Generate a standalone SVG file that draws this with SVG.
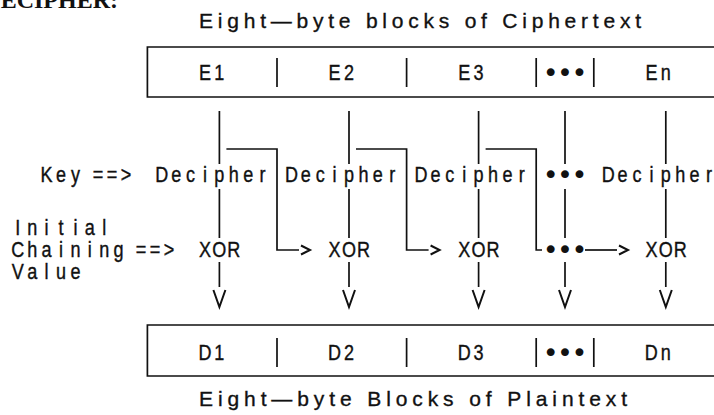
<svg xmlns="http://www.w3.org/2000/svg" width="714" height="415" viewBox="0 0 714 415">
  <style>
    /* fixed-pitch lettering: one glyph per 14.4px cell, glyphs narrowed to 82% */
    .t { font-family: "Liberation Sans", Arial, sans-serif; font-size: 22px; fill: #111; stroke: #111; stroke-width: 0.4px; text-anchor: middle; }
    .title { font-family: "Liberation Sans", Arial, sans-serif; font-size: 21px; fill: #111; stroke: #111; stroke-width: 0.35px; }
    .dot { font-family: "DejaVu Sans", sans-serif; font-size: 27px; fill: #111; text-anchor: middle; }
    .ln { fill: none; stroke: #111; stroke-width: 1.7; }
    .head { fill: none; stroke: #111; stroke-width: 2; stroke-linejoin: miter; }
  </style>
  <defs>
    <!-- open chevron heads: ">" on horizontals, "V" on verticals; drawn just past the line end -->
    <marker id="chev" markerUnits="userSpaceOnUse" markerWidth="14" markerHeight="12" refX="0" refY="0" viewBox="-1 -6 14 12" orient="auto" overflow="visible">
      <path class="head" d="M2,-4.5 L11,0 L2,4.5"/>
    </marker>
    <marker id="vee" markerUnits="userSpaceOnUse" markerWidth="24" markerHeight="16" refX="0" refY="0" viewBox="0 -8 24 16" orient="auto" overflow="visible">
      <path class="head" d="M3,-6 L20,0 L3,6"/>
    </marker>
  </defs>

  <!-- section heading, clipped at the page top -->
  <text x="118" y="8" text-anchor="end" font-family="Liberation Serif, serif" font-weight="bold" font-size="24" fill="#111">DECIPHER:</text>

  <g id="title-ciphertext">
    <text class="title" x="199" y="28" textLength="442" lengthAdjust="spacing">Eight—byte blocks of Ciphertext</text>
  </g>

  <g id="ciphertext-blocks">
    <path class="ln" d="M714,47 H147.4 V97 H714"/>
    <path class="ln" d="M277,58 V87 M406.6,58 V87 M536.2,58 V87 M593.8,58 V87"/>
    <text class="t" transform="scale(0.82,1)" x="250 267.56" y="80">E1</text>
    <text class="t" transform="scale(0.82,1)" x="408.05 425.61" y="80">E2</text>
    <text class="t" transform="scale(0.82,1)" x="566.1 583.66" y="80">E3</text>
    <text class="dot" x="550.6 565 579.4" y="82">•••</text>
    <text class="t" transform="scale(0.82,1)" x="794.39 811.95" y="80">En</text>
  </g>

  <g id="key-label">
    <text class="t" transform="scale(0.82,1)" x="56.83 74.39 91.95" y="182">Key</text>
    <text class="t" transform="scale(0.82,1)" x="119.51 136.59 153.66" y="182">==&gt;</text>
  </g>

  <g id="decipher-1"><text class="t" transform="scale(0.82,1)" x="197.32 214.88 232.44 250 267.56 285.12 302.68 320.24" y="182">Decipher</text></g>
  <g id="decipher-2"><text class="t" transform="scale(0.82,1)" x="355.37 372.93 390.49 408.05 425.61 443.17 460.73 478.29" y="182">Decipher</text></g>
  <g id="decipher-3"><text class="t" transform="scale(0.82,1)" x="513.41 530.98 548.54 566.1 583.66 601.22 618.78 636.34" y="182">Decipher</text></g>
  <g id="decipher-gap"><text class="dot" x="550.6 565 579.4" y="184">•••</text></g>
  <g id="decipher-n"><text class="t" transform="scale(0.82,1)" x="741.71 759.27 776.83 794.39 811.95 829.51 847.07 864.63" y="182">Decipher</text></g>

  <g id="iv-label">
    <text class="t" transform="scale(0.82,1)" x="21.71 39.27 56.83 74.39 91.95 109.51 127.07" y="235">Initial</text>
    <text class="t" transform="scale(0.82,1)" x="21.71 39.27 56.83 74.39 91.95 109.51 127.07 144.63" y="257">Chaining</text>
    <text class="t" transform="scale(0.82,1)" x="171.95 189.02 206.1" y="257">==&gt;</text>
    <text class="t" transform="scale(0.82,1)" x="21.71 39.27 56.83 74.39 91.95" y="279">Value</text>
  </g>

  <g id="xor-1"><text class="t" transform="scale(0.82,1)" x="250 267.56 285.12" y="257">XOR</text></g>
  <g id="xor-2"><text class="t" transform="scale(0.82,1)" x="408.05 425.61 443.17" y="257">XOR</text></g>
  <g id="xor-3"><text class="t" transform="scale(0.82,1)" x="566.1 583.66 601.22" y="257">XOR</text></g>
  <g id="xor-gap"><text class="dot" x="550.6 565 579.4" y="259">•••</text></g>
  <g id="xor-n"><text class="t" transform="scale(0.82,1)" x="794.39 811.95 829.51" y="257">XOR</text></g>

  <g id="plaintext-blocks">
    <path class="ln" d="M714,325 H147.4 V376 H714"/>
    <path class="ln" d="M277,338 V367 M406.6,338 V367 M536.2,338 V367 M593.8,338 V367"/>
    <text class="t" transform="scale(0.82,1)" x="250 267.56" y="360">D1</text>
    <text class="t" transform="scale(0.82,1)" x="408.05 425.61" y="360">D2</text>
    <text class="t" transform="scale(0.82,1)" x="566.1 583.66" y="360">D3</text>
    <text class="dot" x="550.6 565 579.4" y="362">•••</text>
    <text class="t" transform="scale(0.82,1)" x="794.39 811.95" y="360">Dn</text>
  </g>

  <g id="title-plaintext">
    <text class="title" x="199" y="406" textLength="428" lengthAdjust="spacing">Eight—byte Blocks of Plaintext</text>
  </g>

  <g id="connectors">
    <!-- ciphertext blocks into the decipher stage -->
    <path class="ln" d="M219.4,111 V164 M349,111 V164 M478.6,111 V164 M565,111 V164 M665.8,111 V164"/>
    <!-- decipher output into XOR -->
    <path class="ln" d="M219.4,189 V238 M349,189 V238 M478.6,189 V238 M565,189 V238 M665.8,189 V238"/>
    <!-- previous ciphertext block chained into the next XOR -->
    <path class="ln" d="M226.4,149 H277 V250 H299" marker-end="url(#chev)"/>
    <path class="ln" d="M356,149 H406.6 V250 H428.6" marker-end="url(#chev)"/>
    <path class="ln" d="M485.6,149 H536.2 V250 H542"/>
    <path class="ln" d="M585,250 H617" marker-end="url(#chev)"/>
    <!-- XOR results down to plaintext blocks -->
    <path class="ln" d="M219.4,262 V287" marker-end="url(#vee)"/>
    <path class="ln" d="M349,262 V287" marker-end="url(#vee)"/>
    <path class="ln" d="M478.6,262 V287" marker-end="url(#vee)"/>
    <path class="ln" d="M565,262 V287" marker-end="url(#vee)"/>
    <path class="ln" d="M665.8,262 V287" marker-end="url(#vee)"/>
  </g>
</svg>
